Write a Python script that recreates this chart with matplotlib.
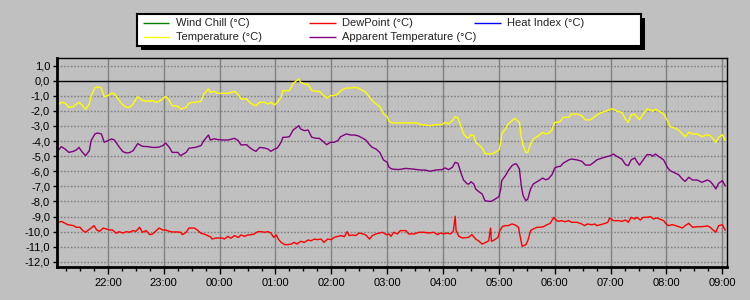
import matplotlib
matplotlib.use("Agg")
import matplotlib.pyplot as plt
from matplotlib.patches import Rectangle
from matplotlib.ticker import FixedLocator, MultipleLocator, FuncFormatter

# ---------------- data (time = minutes after 21:00) ----------------
time_min = [7, 10, 14, 18, 23, 26, 29, 32, 36, 40, 42, 46, 49, 53, 56, 60, 64, 67, 71, 76,
            80, 83, 87, 92, 97, 103, 108, 112, 115, 119, 122, 126, 129, 135, 138, 144, 147, 151, 154, 160,
            163, 168, 170, 174, 178, 183,
            189, 196, 200, 203, 209, 212, 216, 219, 223, 228, 232, 235, 239, 242, 246, 248, 251, 255, 259, 262,
            265, 267, 271, 275, 279, 284, 287, 291, 295, 299, 303, 307, 310, 316, 321, 325, 329, 334, 337, 341,
            344, 348, 352, 356, 360, 362,
            365, 372, 380, 387, 392, 396, 401, 406, 412, 419, 422, 426, 430, 433, 436, 439, 442, 446, 448, 450,
            453, 455, 458, 462, 465, 469, 472, 476, 480, 482, 483, 487, 490, 494, 497, 499, 502, 504, 506, 509,
            511, 514, 517, 521, 524, 527, 530, 533, 537, 540, 543,
            546, 549, 555, 558, 564, 569, 573, 578, 582, 585, 591, 596, 600, 603, 607, 612, 616, 619, 622, 626,
            628, 631, 635, 639, 643, 645, 648, 654, 657, 661, 664, 670, 673, 677, 680, 684, 688, 693, 698, 704,
            707, 710, 713, 716, 720, 723]

temperature = [-1.59, -1.43, -1.48, -1.77, -1.72, -1.55, -1.43, -1.61, -1.90, -1.55,
               -1.00, -0.49, -0.40, -0.49, -1.06, -0.99, -0.82, -0.88, -1.21, -1.61,
               -1.77, -1.77, -1.55, -1.06, -1.32, -1.37, -1.32, -1.43, -1.37, -1.21,
               -1.04, -1.32, -1.66, -1.70, -1.88, -1.77, -1.50, -1.43, -1.43, -1.37,
               -0.88, -0.55, -0.77, -0.71, -0.84, -0.84,
               -0.84, -0.71, -0.93, -1.21, -1.21, -1.43, -1.59, -1.66, -1.43, -1.43,
               -1.55, -1.43, -1.61, -1.43, -1.10, -0.66, -0.66, -0.66, -0.18, -0.04,
               0.11, -0.11, -0.22, -0.26, -0.66, -0.71, -0.71, -0.93, -1.15, -0.99,
               -0.99, -0.88, -0.66, -0.49, -0.49, -0.44, -0.49, -0.66, -0.77, -1.10,
               -1.32, -1.55, -1.72, -2.21, -2.38, -2.69,
               -2.80, -2.80, -2.80, -2.80, -2.80, -2.91, -2.94, -2.98, -2.91, -2.91,
               -2.76, -2.87, -2.65, -2.38, -2.47, -2.98, -3.53, -3.80, -3.75, -3.58,
               -3.64, -4.08, -4.24, -4.46, -4.81, -4.86, -4.86, -4.75, -4.59, -4.08,
               -3.53, -3.20, -2.87, -2.65, -2.49, -2.60, -2.76, -3.75, -4.30, -4.75,
               -4.75, -4.19, -3.86, -3.71, -3.58, -3.42, -3.53, -3.49, -3.27, -2.76,
               -2.76,
               -2.69, -2.43, -2.43, -2.21, -2.21, -2.32, -2.60, -2.60, -2.43, -2.27,
               -2.10, -1.99, -1.88, -1.88, -2.03, -2.10, -2.54, -2.76, -2.27, -2.21,
               -2.38, -2.58, -2.21, -1.88, -1.94, -2.03, -1.88, -2.10, -2.21, -2.65,
               -3.05, -3.16, -3.27, -3.53, -3.71, -3.42, -3.53, -3.53, -3.71, -3.58,
               -3.64, -3.86, -4.08, -3.75, -3.58, -3.97]

apparent_temp = [-4.59, -4.37, -4.53, -4.75, -4.68, -4.59, -4.42, -4.70, -4.97, -4.64,
                 -3.97, -3.53, -3.47, -3.53, -4.08, -3.97, -3.86, -3.93, -4.30, -4.70,
                 -4.79, -4.77, -4.64, -4.17, -4.35, -4.37, -4.42, -4.42, -4.40, -4.30,
                 -4.13, -4.42, -4.75, -4.75, -4.97, -4.75, -4.48, -4.44, -4.42, -4.30,
                 -3.97, -3.60, -3.93, -3.85, -3.90, -3.93,
                 -3.93, -3.82, -3.97, -4.26, -4.24, -4.42, -4.59, -4.68, -4.42, -4.46,
                 -4.53, -4.68, -4.53, -4.46, -4.08, -3.75, -3.75, -3.71, -3.27, -3.13,
                 -2.98, -3.20, -3.31, -3.27, -3.75, -3.82, -3.82, -4.02, -4.24, -4.08,
                 -4.08, -3.97, -3.71, -3.53, -3.60, -3.60, -3.66, -3.82, -3.93, -4.24,
                 -4.42, -4.53, -4.75, -5.25, -5.41, -5.74,
                 -5.85, -5.89, -5.81, -5.85, -5.89, -5.92, -5.92, -6.00, -5.92, -5.89,
                 -5.78, -5.89, -5.74, -5.41, -5.47, -6.07, -6.58, -6.84, -6.84, -6.69,
                 -6.84, -7.17, -7.33, -7.51, -7.95, -7.99, -7.99, -7.84, -7.68, -7.17,
                 -6.62, -6.29, -5.96, -5.63, -5.52, -5.52, -5.85, -6.95, -7.62, -7.95,
                 -7.84, -7.17, -6.84, -6.69, -6.58, -6.45, -6.56, -6.51, -6.23, -5.78,
                 -5.70,
                 -5.67, -5.47, -5.25, -5.19, -5.25, -5.34, -5.59, -5.59, -5.41, -5.25,
                 -5.12, -5.03, -4.97, -4.86, -5.03, -5.19, -5.56, -5.63, -5.25, -5.12,
                 -5.34, -5.59, -5.25, -4.90, -4.90, -5.01, -4.86, -5.12, -5.25, -5.74,
                 -5.96, -6.14, -6.23, -6.51, -6.67, -6.40, -6.58, -6.58, -6.73, -6.58,
                 -6.67, -6.89, -7.17, -6.80, -6.62, -6.95]

dew_time_min = [7, 10, 14, 17, 23, 26, 30, 33, 36, 39, 42, 45, 48, 51, 55, 58, 62, 65, 69, 72,
                76, 80, 83, 87, 90, 94, 97, 101, 105, 108, 112, 115, 119, 122, 126, 129, 135, 138, 140, 144,
                147, 153, 156, 160, 163, 167, 170, 172, 176, 183,
                185, 189, 192, 196, 200, 203, 207, 210, 214, 217, 221, 225, 228, 232, 235, 238, 241, 243, 246, 250,
                253, 257, 260, 263, 267, 271, 275, 278, 282, 285, 289, 292, 296, 300, 303, 307, 310, 314, 317, 319,
                323, 326, 330, 334, 337, 341, 344, 348, 352, 355, 359, 362,
                364, 367, 371, 374, 380, 383, 389, 394, 399, 405, 410, 414, 417, 421, 424, 428, 431, 433, 434, 437,
                441, 447, 451, 455, 458, 462, 466, 469, 471, 472, 475, 479, 481, 484, 487, 490, 494, 497, 501, 503,
                505, 509, 511, 514, 517, 521, 524, 528, 531, 535, 539, 542,
                544, 547, 551, 555, 558, 564, 569, 572, 575, 580, 583, 585, 589, 594, 597, 599, 603, 609, 612, 616,
                619, 622, 626, 628, 632, 635, 639, 643, 646, 650, 654, 657, 659, 662, 666, 670, 673, 677, 680, 684,
                688, 693, 698, 704, 707, 710, 713, 716, 720, 723]

dewpoint = [-9.38, -9.32, -9.45, -9.54, -9.60, -9.71, -9.71, -9.93, -10.04, -9.89,
            -9.76, -9.60, -9.89, -9.98, -9.76, -9.82, -9.89, -9.89, -10.11, -10.00,
            -10.09, -10.00, -10.04, -9.93, -9.98, -9.71, -10.04, -9.93, -10.20, -10.15,
            -9.93, -9.76, -9.89, -9.89, -9.98, -10.02, -10.02, -10.04, -10.20, -10.04,
            -9.76, -9.76, -9.89, -10.11, -10.15, -10.26, -10.33, -10.49, -10.42, -10.42,
            -10.49, -10.31, -10.44, -10.26, -10.38, -10.22, -10.31, -10.22, -10.20, -10.15,
            -10.00, -10.00, -10.04, -10.00, -10.09, -10.38, -10.22, -10.49, -10.71, -10.86,
            -10.86, -10.82, -10.71, -10.82, -10.64, -10.71, -10.55, -10.60, -10.49, -10.53,
            -10.49, -10.71, -10.49, -10.53, -10.38, -10.31, -10.26, -10.33, -10.00, -10.26,
            -10.22, -10.26, -10.09, -10.15, -10.22, -10.49, -10.26, -10.15, -10.09, -10.04,
            -10.20, -10.15,
            -10.31, -10.04, -10.15, -9.93, -9.93, -10.15, -10.15, -10.04, -10.04, -10.09,
            -10.04, -10.20, -10.09, -10.15, -10.09, -10.15, -9.98, -8.98, -9.93, -10.31,
            -10.42, -10.38, -10.20, -10.49, -10.60, -10.82, -10.71, -10.60, -9.76, -10.64,
            -10.55, -10.38, -9.93, -9.65, -9.60, -9.60, -9.49, -9.54, -9.71, -10.38,
            -10.97, -10.86, -10.60, -9.93, -9.82, -9.71, -9.71, -9.67, -9.56, -9.45,
            -9.05, -9.27,
            -9.32, -9.27, -9.34, -9.27, -9.38, -9.38, -9.49, -9.60, -9.49, -9.54,
            -9.49, -9.60, -9.54, -9.45, -9.38, -9.09, -9.27, -9.27, -9.32, -9.23,
            -9.38, -9.05, -9.16, -9.05, -9.23, -9.05, -9.05, -9.01, -9.16, -9.09,
            -9.20, -9.27, -9.45, -9.60, -9.54, -9.60, -9.67, -9.76, -9.60, -9.45,
            -9.71, -9.67, -9.67, -9.62, -9.71, -9.89, -10.04, -9.60, -9.54, -9.89]

hour_ticks = [60, 120, 180, 240, 300, 360, 420, 480, 540, 600, 660, 720]
hour_labels = ["22:00", "23:00", "00:00", "01:00", "02:00", "03:00",
               "04:00", "05:00", "06:00", "07:00", "08:00", "09:00"]

legend_labels = ["Wind Chill (°C)", "DewPoint (°C)", "Heat Index (°C)",
                 "Temperature (°C)", "Apparent Temperature (°C)"]
legend_colors = ["#008000", "#FF0000", "#0000FF", "#FFFF00", "#800080"]

# ---------------- figure ----------------
BG = "#C0C0C0"
W, H = 750, 300
fig = plt.figure(figsize=(7.5, 3.0), dpi=100, facecolor=BG)
plt.rcParams["font.family"] = ["Liberation Sans", "DejaVu Sans"]

ax = fig.add_axes([57 / W, 1 - 267 / H, (727 - 57) / W, (267 - 58) / H])
ax.set_facecolor(BG)

ax.set_xlim(5.3, 725)
ax.set_ylim(-12.34, 1.5)

# grid
for yv in range(-12, 2):
    if yv == 0:
        continue
    ax.axhline(yv, color="#808080", lw=1.0, ls=(0, (1.2, 1.2)), zorder=1)
for xv in hour_ticks:
    ax.axvline(xv, color="#808080", lw=1.0, zorder=1)
ax.axhline(0, color="black", lw=1.0, zorder=2)

# series
ax.plot(time_min, temperature, color="#FFFF00", lw=1.0, zorder=3)
ax.plot(time_min, apparent_temp, color="#800080", lw=1.0, zorder=3)
ax.plot(dew_time_min, dewpoint, color="#FF0000", lw=1.0, zorder=3)

# axes styling
for s in ["left", "bottom"]:
    ax.spines[s].set_linewidth(2.0)
for s in ["top", "right"]:
    ax.spines[s].set_linewidth(1.0)
for s in ax.spines.values():
    s.set_color("black")
    s.set_zorder(4)

ax.yaxis.set_major_locator(FixedLocator(list(range(-12, 2))))
ax.yaxis.set_major_formatter(FuncFormatter(lambda v, p: f"{v:.1f}".replace(".", ",")))
ax.tick_params(axis="y", which="major", length=3, width=1, pad=2, labelsize=8, colors="black")

ax.xaxis.set_major_locator(FixedLocator(hour_ticks))
ax.set_xticklabels(hour_labels)
ax.xaxis.set_minor_locator(MultipleLocator(15))
ax.tick_params(axis="x", which="major", length=5, width=1, pad=3, labelsize=8, colors="black")
ax.tick_params(axis="x", which="minor", length=3, width=1, colors="black")

# ---------------- legend box ----------------
lx0, ly0, lx1, ly1 = 137, 14, 641, 46
shadow = Rectangle(((lx0 + 4) / W, 1 - (ly1 + 4) / H), (lx1 - lx0) / W, (ly1 - ly0) / H,
                   transform=fig.transFigure, facecolor="black", edgecolor="none", zorder=5)
fig.patches.append(shadow)
lax = fig.add_axes([lx0 / W, 1 - ly1 / H, (lx1 - lx0) / W, (ly1 - ly0) / H], zorder=6)
lax.set_facecolor("white")
lax.set_xlim(0, lx1 - lx0)
lax.set_ylim(ly1 - ly0, 0)
lax.set_xticks([])
lax.set_yticks([])
for s in lax.spines.values():
    s.set_linewidth(1.5)
    s.set_color("black")

col_x = [5.5, 172, 337]
row_y = [9.3, 22.7]
for i, (lab, col) in enumerate(zip(legend_labels, legend_colors)):
    r, c = divmod(i, 3)
    x0 = col_x[c]
    y0 = row_y[r]
    lax.plot([x0, x0 + 26.5], [y0, y0], color=col, lw=1.0, solid_capstyle="butt")
    lax.text(x0 + 33, y0, lab, fontsize=8, color="#222222", va="center", ha="left")

fig.savefig("out.png", dpi=100, facecolor=BG)
